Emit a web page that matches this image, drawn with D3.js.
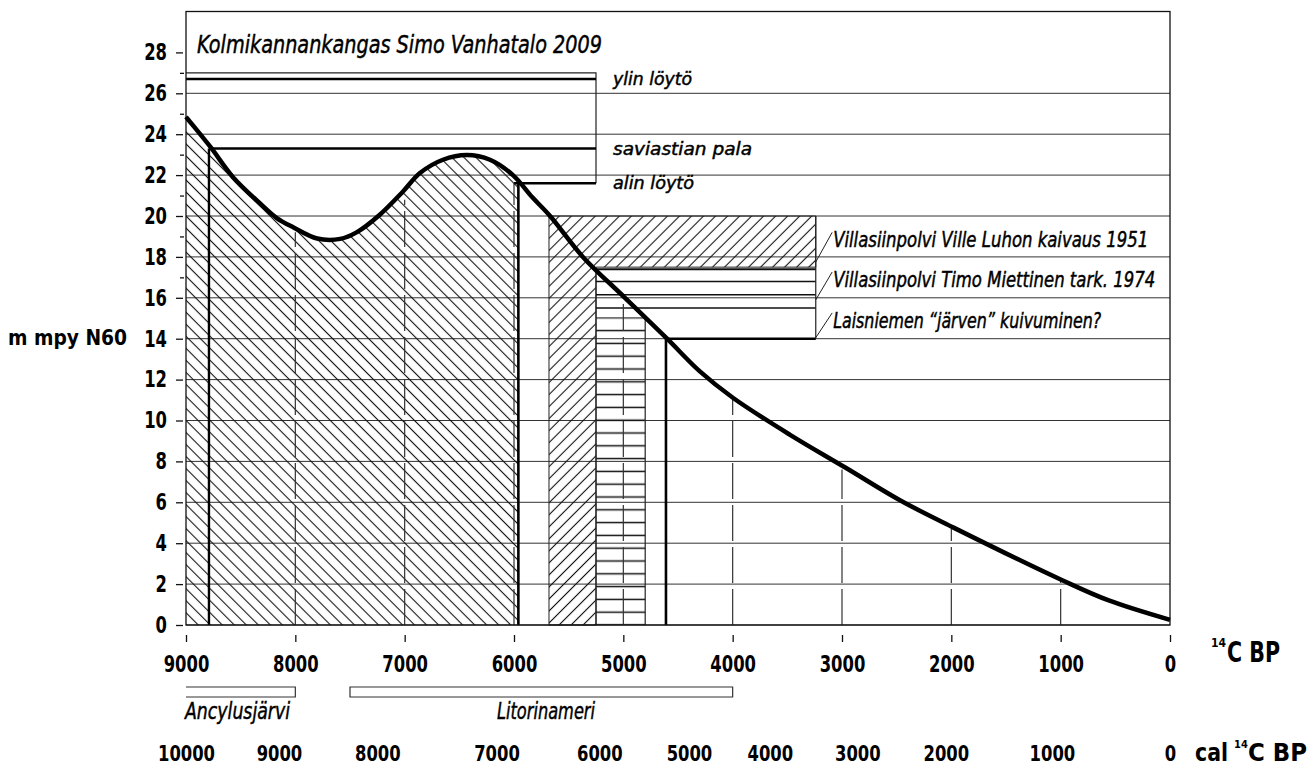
<!DOCTYPE html>
<html>
<head>
<meta charset="utf-8">
<title>Kolmikannankangas</title>
<script src="https://cdn.jsdelivr.net/npm/d3@7"></script>
<style>
    body { margin: 0; background: #fff; }
    svg { display: block; font-family: "DejaVu Sans Condensed", "DejaVu Sans", sans-serif; font-stretch: condensed; }
    .num { font-weight: bold; fill: #000; }
    .note { font-style: italic; fill: #000; stroke: #000; stroke-width: 0.45px; }
</style>
</head>
<body>
<div id="chart"></div>
<script>
// shoreline displacement curve: 14C BP and metres (N60)
let curveAge   = [9000, 8780, 8570, 8320, 8170, 8020, 7800, 7590, 7440, 7230, 7015, 6860, 6650, 6430, 6220, 6010, 5830, 5670, 5370, 4985, 4600, 4300, 3995, 3475, 2970, 2470, 1975, 990, 560, 0];
let curveLevel = [24.85, 23.4, 21.9, 20.6, 19.9, 19.45, 18.9, 18.88, 19.2, 20.05, 21.2, 22.1, 22.75, 22.98, 22.75, 22.0, 20.9, 20.0, 18.0, 16.0, 14.0, 12.4, 11.1, 9.3, 7.7, 6.1, 4.75, 2.2, 1.2, 0.25];

// axis ticks
let levelTicks = [0, 2, 4, 6, 8, 10, 12, 14, 16, 18, 20, 22, 24, 26, 28];
let minorTicks = [17, 19, 21, 23, 25, 27];
let gridLevels = [0, 2, 4, 6, 8, 10, 12, 14, 16, 18, 20, 22, 24, 26];
let ageTicks = [9000, 8000, 7000, 6000, 5000, 4000, 3000, 2000, 1000, 0];

// calibrated scale, placed on the 14C axis
let calLabels = ["10000", "9000", "8000", "7000", "6000", "5000", "4000", "3000", "2000", "1000", "0"];
let calAt = [9000, 8150, 7250, 6160, 5220, 4400, 3660, 2860, 2050, 1080, 0];

// dashed guides from zero up to the curve
let guideAges = [8000, 7000, 6000, 5000, 4000, 3000, 2000, 1000];
let guideTops = [19.2, 20.8, 21.6, 15.7, 11.1, 7.6, 4.7, 2.3];

// Kolmikannankangas finds
let findNames = ["ylin löytö", "saviastian pala", "alin löytö"];
let findLevels = [26.7, 23.3, 21.6];
let findStart = [9000, 8790, 6000];
let findBoxTop = 27.0;
let findBoxEnd = 5250;
let hatchEnd = 5960;

// Villasiinpolvi and Laisniemi
let siteNames = ["Villasiinpolvi  Ville Luhon kaivaus 1951", "Villasiinpolvi  Timo Miettinen tark. 1974", "Laisniemen “järven” kuivuminen?"];
let luhoAge = [5680, 3240];
let luhoLevel = [17.5, 20.0];
let luhoColumnEnd = 5250;
let miettinenAge = [5250, 3240];
let miettinenLines = [17.4, 16.8, 16.15, 15.5];
let miettinenColumnEnd = 4800;
let miettinenColumnTop = 15.0;
let laisAge = [4610, 3240];
let laisLevel = 14.0;
let leaderAge = [3240, 3090];
let leaderFrom = [17.75, 15.9, 14.05];
let leaderTo = [19.2, 17.26, 15.26];

// Baltic stages
let periodNames = ["Ancylusjärvi", "Litorinameri"];
let periodStart = [9000, 7500];
let periodEnd = [8000, 4000];

document.addEventListener('DOMContentLoaded', function() {

    let width = 1310;
    let height = 767;

    let svg = d3.select("#chart")
                .append("svg")
                .attr("width", width)
                .attr("height", height);

    // 14C BP runs from right to left
    let x = d3.scaleLinear().domain([9000, 0]).range([186, 1170]);
    let y = d3.scaleLinear().domain([0, 30]).range([625, 11.5]);

    let points = curveAge.map((a, i) => [a, curveLevel[i]]);

    // hatch patterns
    let defs = svg.append("defs");
    function hatch(id, angle) {
        defs.append("pattern")
            .attr("id", id)
            .attr("patternUnits", "userSpaceOnUse")
            .attr("width", 8.5)
            .attr("height", 8.5)
            .attr("patternTransform", `rotate(${angle})`)
            .append("line")
            .attr("x1", 4.25).attr("x2", 4.25)
            .attr("y1", 0).attr("y2", 8.5)
            .attr("stroke", "#111")
            .attr("stroke-width", 1.1);
    }
    hatch("back", -45);
    hatch("fwd", 45);

    defs.append("pattern")
        .attr("id", "horiz")
        .attr("patternUnits", "userSpaceOnUse")
        .attr("width", 20)
        .attr("height", 12.8)
        .attr("y", y(0) - 6.4)
        .append("line")
        .attr("x1", 0).attr("x2", 20)
        .attr("y1", 6.4).attr("y2", 6.4)
        .attr("stroke", "#111")
        .attr("stroke-width", 1.5);

    let area = d3.area()
        .x(d => x(d[0]))
        .y0(y(0))
        .y1(d => y(d[1]))
        .curve(d3.curveCatmullRom.alpha(0.5));

    defs.append("clipPath")
        .attr("id", "under")
        .append("path")
        .attr("d", area(points));

    // grid
    svg.append("g").selectAll("line")
        .data(gridLevels)
        .enter()
        .append("line")
        .attr("x1", x(9000)).attr("x2", x(0))
        .attr("y1", d => y(d)).attr("y2", d => y(d))
        .attr("stroke", "#333")
        .attr("stroke-width", 1);

    // hatched area below the curve
    svg.append("rect")
        .attr("x", x(9000))
        .attr("y", y(30))
        .attr("width", x(hatchEnd) - x(9000))
        .attr("height", y(0) - y(30))
        .attr("fill", "url(#back)")
        .attr("clip-path", "url(#under)");

    // Luho 1951: L shaped hatch
    let luho = `M${x(luhoAge[0])},${y(0)} V${y(luhoLevel[1])} H${x(luhoAge[1])} V${y(luhoLevel[0])} H${x(luhoColumnEnd)} V${y(0)} Z`;
    svg.append("path")
        .attr("d", luho)
        .attr("fill", "url(#fwd)")
        .attr("stroke", "#222")
        .attr("stroke-width", 1);

    // Miettinen 1974: horizontal lines
    svg.append("rect")
        .attr("x", x(miettinenAge[0]))
        .attr("y", y(miettinenColumnTop) - 1)
        .attr("width", x(miettinenColumnEnd) - x(miettinenAge[0]))
        .attr("height", y(0) - y(miettinenColumnTop) + 1)
        .attr("fill", "url(#horiz)");

    svg.append("path")
        .attr("d", `M${x(miettinenAge[0])},${y(0)} V${y(miettinenLines[0])} M${x(miettinenColumnEnd)},${y(0)} V${y(miettinenColumnTop)}`)
        .attr("fill", "none")
        .attr("stroke", "#222")
        .attr("stroke-width", 1.2);

    svg.append("g").selectAll("line")
        .data(miettinenLines)
        .enter()
        .append("line")
        .attr("x1", x(miettinenAge[0])).attr("x2", x(miettinenAge[1]))
        .attr("y1", d => y(d)).attr("y2", d => y(d))
        .attr("stroke", "#111")
        .attr("stroke-width", (d, i) => i == 0 ? 2 : 1.4);

    // right edge of the site boxes
    svg.append("line")
        .attr("x1", x(luhoAge[1])).attr("x2", x(luhoAge[1]))
        .attr("y1", y(luhoLevel[1])).attr("y2", y(laisLevel))
        .attr("stroke", "#222")
        .attr("stroke-width", 1.2);

    // Laisniemi
    svg.append("path")
        .attr("d", `M${x(laisAge[0])},${y(0)} V${y(laisLevel)} H${x(laisAge[1])}`)
        .attr("fill", "none")
        .attr("stroke", "#000")
        .attr("stroke-width", 2.6);

    // find box
    svg.append("path")
        .attr("d", `M${x(9000)},${y(findBoxTop)} H${x(findBoxEnd)} V${y(findLevels[2])}`)
        .attr("fill", "none")
        .attr("stroke", "#222")
        .attr("stroke-width", 1.2);

    svg.append("g").selectAll("line")
        .data(findLevels)
        .enter()
        .append("line")
        .attr("x1", (d, i) => x(findStart[i])).attr("x2", x(findBoxEnd))
        .attr("y1", d => y(d)).attr("y2", d => y(d))
        .attr("stroke", "#000")
        .attr("stroke-width", 2.4);

    // verticals at the first find and the hatch end
    svg.append("line")
        .attr("x1", x(findStart[1])).attr("x2", x(findStart[1]))
        .attr("y1", y(findLevels[1])).attr("y2", y(0))
        .attr("stroke", "#000")
        .attr("stroke-width", 2.4);
    svg.append("line")
        .attr("x1", x(hatchEnd)).attr("x2", x(hatchEnd))
        .attr("y1", y(21.8)).attr("y2", y(0))
        .attr("stroke", "#000")
        .attr("stroke-width", 2.6);

    // dashed guides
    svg.append("g").selectAll("line")
        .data(guideAges)
        .enter()
        .append("line")
        .attr("x1", d => x(d)).attr("x2", d => x(d))
        .attr("y1", y(0)).attr("y2", (d, i) => y(guideTops[i]))
        .attr("stroke", "#333")
        .attr("stroke-width", 1.2)
        .attr("stroke-dasharray", "36,6");

    // frame
    svg.append("rect")
        .attr("x", x(9000))
        .attr("y", y(30))
        .attr("width", x(0) - x(9000))
        .attr("height", y(0) - y(30))
        .attr("fill", "none")
        .attr("stroke", "#111")
        .attr("stroke-width", 1.3);

    // the curve
    let line = d3.line()
        .x(d => x(d[0]))
        .y(d => y(d[1]))
        .curve(d3.curveCatmullRom.alpha(0.5));
    svg.append("path")
        .attr("d", line(points))
        .attr("fill", "none")
        .attr("stroke", "#000")
        .attr("stroke-width", 4.5)
        .attr("stroke-linejoin", "round");

    // y axis
    let yAxis = svg.append("g")
        .attr("transform", "translate(183,0)")
        .call(d3.axisLeft(y).tickValues(levelTicks).tickSize(7).tickPadding(9));
    let yMinor = svg.append("g")
        .attr("transform", "translate(184,0)")
        .call(d3.axisLeft(y).tickValues(minorTicks).tickSize(4).tickFormat(""));

    // x axis, 14C BP
    let xAxis = svg.append("g")
        .attr("transform", "translate(0,635)")
        .call(d3.axisBottom(x).tickValues(ageTicks).tickSize(7).tickFormat(d3.format("d")));
    xAxis.selectAll("text").attr("y", 37).attr("dy", 0);

    // cal scale
    let calAxis = svg.append("g")
        .attr("transform", "translate(0,761)")
        .call(d3.axisBottom(x).tickValues(calAt).tickSize(0).tickFormat((d, i) => calLabels[i]));
    calAxis.selectAll("text").attr("y", 0).attr("dy", 0);

    [yAxis, yMinor, xAxis, calAxis].forEach(g => {
        g.attr("font-family", null).attr("font-size", null);
        g.select(".domain").remove();
        g.selectAll(".tick line").attr("stroke", "#111").attr("stroke-width", 1.3);
        g.selectAll("text")
            .attr("class", "num")
            .style("font-size", "23px")
            .attr("lengthAdjust", "spacingAndGlyphs")
            .attr("textLength", function() { return this.textContent.length * 11.4; });
    });
    calAxis.selectAll("text").style("font-size", "22px");

    // axis titles
    svg.append("text")
        .attr("class", "num")
        .attr("x", 8).attr("y", 345)
        .style("font-size", "22px")
        .attr("textLength", 119)
        .attr("lengthAdjust", "spacingAndGlyphs")
        .text("m mpy N60");

    svg.append("text").attr("class", "num")
        .attr("x", 1211).attr("y", 647).style("font-size", "12px").text("14");
    svg.append("text").attr("class", "num")
        .attr("x", 1227).attr("y", 662).style("font-size", "29px")
        .attr("textLength", 53).attr("lengthAdjust", "spacingAndGlyphs").text("C BP");

    svg.append("text").attr("class", "num")
        .attr("x", 1195).attr("y", 761).style("font-size", "25px")
        .attr("textLength", 33).attr("lengthAdjust", "spacingAndGlyphs").text("cal");
    svg.append("text").attr("class", "num")
        .attr("x", 1234).attr("y", 748).style("font-size", "11px").text("14");
    svg.append("text").attr("class", "num")
        .attr("x", 1248).attr("y", 761).style("font-size", "25px")
        .attr("textLength", 59).attr("lengthAdjust", "spacingAndGlyphs").text("C BP");

    // title
    svg.append("text")
        .attr("class", "note")
        .attr("x", 197).attr("y", 53)
        .style("font-size", "24px")
        .attr("textLength", 405)
        .attr("lengthAdjust", "spacingAndGlyphs")
        .text("Kolmikannankangas Simo Vanhatalo 2009");

    // find labels
    let findWidths = [79, 139, 81];
    svg.append("g").selectAll("text")
        .data(findNames)
        .enter()
        .append("text")
        .attr("class", "note")
        .style("font-size", "18px")
        .attr("x", x(findBoxEnd) + 17)
        .attr("y", (d, i) => y(findLevels[i]) + 6)
        .attr("textLength", (d, i) => findWidths[i])
        .attr("lengthAdjust", "spacingAndGlyphs")
        .text(d => d);

    // site leaders and labels
    svg.append("g").selectAll("line")
        .data(leaderFrom)
        .enter()
        .append("line")
        .attr("x1", x(leaderAge[0])).attr("x2", x(leaderAge[1]))
        .attr("y1", d => y(d)).attr("y2", (d, i) => y(leaderTo[i]))
        .attr("stroke", "#222")
        .attr("stroke-width", 1);

    let siteWidths = [315, 322, 268];
    svg.append("g").selectAll("text")
        .data(siteNames)
        .enter()
        .append("text")
        .attr("class", "note")
        .style("font-size", "21px")
        .attr("x", x(leaderAge[1]) + 1)
        .attr("y", (d, i) => y(leaderTo[i]) + 15)
        .attr("textLength", (d, i) => siteWidths[i])
        .attr("lengthAdjust", "spacingAndGlyphs")
        .text(d => d);

    // Baltic stage brackets
    svg.append("g").selectAll("path")
        .data(periodNames)
        .enter()
        .append("path")
        .attr("d", (d, i) => i == 0
            ? `M${x(periodStart[i])},687 H${x(periodEnd[i])} V697 H${x(periodStart[i])}`
            : `M${x(periodStart[i])},687 H${x(periodEnd[i])} V697 H${x(periodStart[i])} Z`)
        .attr("fill", "none")
        .attr("stroke", "#333")
        .attr("stroke-width", 1.2);

    let periodWidths = [105, 98];
    svg.append("g").selectAll("text")
        .data(periodNames)
        .enter()
        .append("text")
        .attr("class", "note")
        .style("font-size", "23px")
        .attr("x", (d, i) => i == 0 ? x(periodStart[i]) - 1 : x(periodStart[i]) + 147)
        .attr("y", 719)
        .attr("textLength", (d, i) => periodWidths[i])
        .attr("lengthAdjust", "spacingAndGlyphs")
        .text(d => d);
})
</script>
</body>
</html>
